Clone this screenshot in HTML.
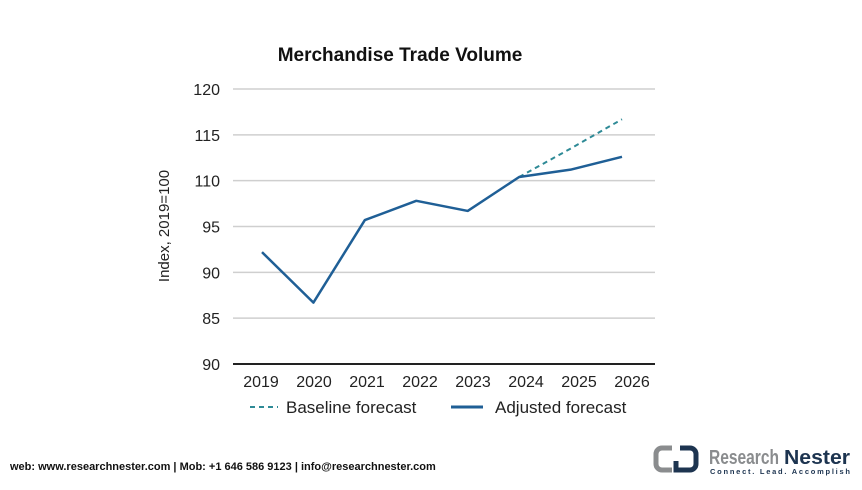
<!DOCTYPE html>
<html><head><meta charset="utf-8"><style>
body{margin:0;width:862px;height:485px;background:#fff;overflow:hidden;font-family:"Liberation Sans",sans-serif}
</style></head><body>
<svg id="chart" width="862" height="485" xmlns="http://www.w3.org/2000/svg">
<text x="400" y="61" text-anchor="middle" font-size="19" font-weight="bold" fill="#111">Merchandise Trade Volume</text>
<text transform="translate(169,226) rotate(-90)" text-anchor="middle" font-size="15" fill="#222">Index, 2019=100</text>
<g id="grid"></g><g id="marks"></g>
<g>
<line x1="250" y1="407" x2="278" y2="407" stroke="#2e8a96" stroke-width="2" stroke-dasharray="5,4"/>
<text x="286" y="413" font-size="17" fill="#222">Baseline forecast</text>
<line x1="451" y1="407" x2="483" y2="407" stroke="#1f5f96" stroke-width="3"/>
<text x="495" y="413" font-size="17" fill="#222">Adjusted forecast</text>
</g>
<text x="10" y="470" font-size="11" font-weight="bold" fill="#111">web: www.researchnester.com | Mob: +1 646 586 9123 | info@researchnester.com</text>
<g>
<path d="M672 448 h-10 a6 6 0 0 0 -6 6 v10 a6 6 0 0 0 6 6 h10" fill="none" stroke="#8a8c8e" stroke-width="5"/>
<path d="M680 448 h10 a6 6 0 0 1 6 6 v10 a6 6 0 0 1 -6 6 h-14 v-9" fill="none" stroke="#1d3450" stroke-width="5"/>
<text x="709" y="464" font-size="20" fill="#8a8c8e" font-weight="bold" textLength="70" lengthAdjust="spacingAndGlyphs">Research</text>
<text x="784" y="464" font-size="20" fill="#1d3450" font-weight="bold" textLength="66" lengthAdjust="spacingAndGlyphs">Nester</text>
<text x="710" y="474" font-size="7.5" fill="#1d3450" font-weight="bold" textLength="140" lengthAdjust="spacing">Connect. Lead. Accomplish</text>
</g>
</svg>
<script>
const categories=["2019","2020","2021","2022","2023","2024","2025","2026"];
const adjusted=[102.2,96.7,105.7,107.8,106.7,110.4,111.2,112.6];
const baselineYears=["2024","2025","2026"];
const baseline=[110.4,113.5,116.7];
const tickValues=[90,95,100,105,110,115,120];
const tickLabels=["90","85","90","95","110","115","120"];
const NS="http://www.w3.org/2000/svg";
const y=v=>364-(v-90)/30*275;
const xp=c=>262+categories.indexOf(c)*(622-262)/(categories.length-1);
const xl=c=>261+categories.indexOf(c)*(632-261)/(categories.length-1);
const grid=document.getElementById('grid'),marks=document.getElementById('marks');
function mk(t,a,p){const e=document.createElementNS(NS,t);for(const k in a)e.setAttribute(k,a[k]);p.appendChild(e);return e;}
tickValues.forEach((v,i)=>{
 const l=mk('line',{x1:233,x2:655,y1:y(v),y2:y(v),stroke:i==0?'#222':'#cfcfcf','stroke-width':i==0?2:1.5},grid);
 
 
 const t=mk('text',{x:220,y:y(v)+6,'text-anchor':'end','font-size':16,fill:'#222'},grid);
 t.textContent=tickLabels[i];
 
 
});
categories.forEach(c=>{
 const t=mk('text',{x:xl(c),y:387,'text-anchor':'middle','font-size':16,fill:'#222'},grid);
 t.textContent=c;
 
 
});
const b=mk('polyline',{points:baselineYears.map((c,i)=>xp(c)+','+y(baseline[i])).join(' '),fill:'none',stroke:'#2e8a96','stroke-width':2,'stroke-dasharray':'5,4'},marks);


const a=mk('polyline',{points:categories.map((c,i)=>xp(c)+','+y(adjusted[i])).join(' '),fill:'none',stroke:'#1f5f96','stroke-width':2.5,'stroke-linejoin':'round'},marks);


</script>
</body></html>
